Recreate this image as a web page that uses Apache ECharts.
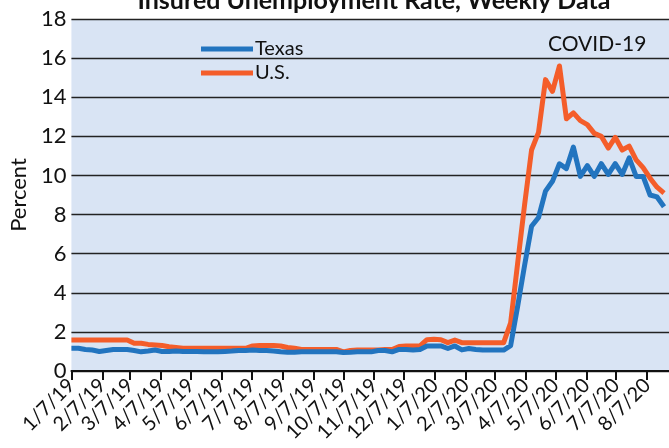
<!DOCTYPE html>
<html>
<head>
<meta charset="utf-8">
<script src="https://cdn.jsdelivr.net/npm/echarts@6/dist/echarts.min.js"></script>
<style>
  html, body { margin: 0; padding: 0; background: #fff; }
  #chart { width: 669px; height: 448px; }
</style>
</head>
<body>
<div id="chart"></div>
<script>
  // weekly data, first week 1/7/19
  var firstWeek = '2019-01-07';
  var tickLabels = ['1/7/19', '2/7/19', '3/7/19', '4/7/19', '5/7/19', '6/7/19', '7/7/19', '8/7/19',
    '9/7/19', '10/7/19', '11/7/19', '12/7/19', '1/7/20', '2/7/20', '3/7/20', '4/7/20',
    '5/7/20', '6/7/20', '7/7/20', '8/7/20'];
  var yTicks = [0, 2, 4, 6, 8, 10, 12, 14, 16, 18];

  var texasData = [
    1.16, 1.16, 1.1, 1.07, 1.0, 1.05, 1.1, 1.1, 1.1, 1.05, 0.98, 1.02, 1.07, 1.0, 1.0, 1.02,
    1.0, 1.0, 1.0, 0.98, 0.98, 0.98, 1.0, 1.02, 1.05, 1.05, 1.07, 1.05, 1.05, 1.02, 0.98,
    0.96, 0.96, 0.98, 0.98, 0.98, 0.98, 0.98, 0.98, 0.95, 0.96, 0.98, 0.98, 0.98, 1.05, 1.05, 0.98,
    1.1, 1.1, 1.08, 1.1,
    1.28, 1.28, 1.28, 1.15, 1.28, 1.08, 1.15, 1.1, 1.07, 1.07, 1.07, 1.07,
    1.3, 3.3, 5.4, 7.4, 7.85, 9.2, 9.7, 10.6, 10.35, 11.45, 9.95, 10.5, 9.95, 10.6, 10.05,
    10.6, 10.05, 10.9, 9.95, 9.95, 9.0, 8.9, 8.4
  ];
  var usData = [
    1.59, 1.59, 1.59, 1.59, 1.59, 1.59, 1.59, 1.59, 1.59,
    1.42, 1.42, 1.36, 1.33, 1.3, 1.24, 1.2,
    1.16, 1.16, 1.16, 1.16, 1.16, 1.16, 1.16, 1.16, 1.16, 1.16,
    1.28, 1.3, 1.3, 1.3, 1.28, 1.2, 1.16,
    1.1, 1.1, 1.1, 1.1, 1.1, 1.1,
    0.98, 1.05, 1.07, 1.07, 1.07, 1.07, 1.1, 1.1,
    1.25, 1.28, 1.28, 1.28,
    1.6, 1.62, 1.6, 1.45, 1.58, 1.45, 1.45, 1.45, 1.45, 1.45, 1.45, 1.45,
    2.46, 5.5, 8.5, 11.3, 12.2, 14.9, 14.3, 15.6, 12.9, 13.2, 12.8, 12.6, 12.15, 12.0, 11.4,
    11.95, 11.3, 11.5, 10.8, 10.4, 9.86, 9.4, 9.1
  ];

  var DAY = 86400000;
  var font = "Lato, 'Open Sans', sans-serif";
  var start = Date.parse(firstWeek + 'T00:00:00Z');

  function toPairs(arr) {
    return arr.map(function (v, i) { return [start + i * 7 * DAY, v]; });
  }
  function parseLabel(s) {
    var p = s.split('/');
    return Date.UTC(2000 + (+p[2]), +p[0] - 1, +p[1]);
  }
  var tickValues = tickLabels.map(parseLabel);

  var chart = echarts.init(document.getElementById('chart'));
  var option = {
    animation: false,
    title: {
      text: 'Insured Unemployment Rate, Weekly Data',
      left: 369,
      textAlign: 'center',
      top: -17,
      textStyle: { fontFamily: font, fontSize: 25, fontWeight: 'bold', color: '#111' }
    },
    legend: {
      orient: 'vertical',
      left: 196,
      top: 34,
      itemGap: 4,
      itemWidth: 52,
      itemHeight: 5,
      icon: 'rect',
      data: ['Texas', 'U.S.'],
      textStyle: { fontFamily: font, fontSize: 20, color: '#111', padding: [0, 0, 0, -3] }
    },
    graphic: [{
      type: 'text',
      left: 548,
      top: 34,
      style: { text: 'COVID-19', fontFamily: font, fontSize: 21, fill: '#111' }
    }],
    grid: {
      left: 66,
      right: -9,
      top: 19,
      bottom: 77,
      show: true,
      backgroundColor: '#d9e4f4',
      borderWidth: 0
    },
    xAxis: {
      type: 'value',
      min: start,
      max: start + 600 * DAY,
      splitLine: { show: false },
      axisLine: { show: true, lineStyle: { color: '#111', width: 2 } },
      axisTick: { show: true, customValues: tickValues, length: 9, lineStyle: { color: '#111', width: 2 } },
      axisLabel: {
        customValues: tickValues,
        rotate: 45,
        margin: 11,
        fontFamily: font,
        fontSize: 20,
        color: '#111',
        formatter: function (v) {
          var d = new Date(v);
          return (d.getUTCMonth() + 1) + '/' + d.getUTCDate() + '/' + String(d.getUTCFullYear()).slice(2);
        }
      }
    },
    yAxis: {
      type: 'value',
      min: yTicks[0],
      max: yTicks[yTicks.length - 1],
      interval: 2,
      name: 'Percent',
      nameLocation: 'middle',
      nameGap: 40,
      nameTextStyle: { fontFamily: font, fontSize: 22, color: '#111' },
      axisLine: { show: false },
      axisTick: { show: false },
      axisLabel: { fontFamily: font, fontSize: 22, color: '#111', margin: 5 },
      splitLine: { lineStyle: { color: '#222', width: 1.3 } }
    },
    series: [
      {
        name: 'Texas',
        type: 'line',
        data: toPairs(texasData),
        showSymbol: false,
        color: '#2274bf',
        lineStyle: { width: 5, color: '#2274bf', join: 'round' },
        z: 3
      },
      {
        name: 'U.S.',
        type: 'line',
        data: toPairs(usData),
        showSymbol: false,
        color: '#f45d2a',
        lineStyle: { width: 5, color: '#f45d2a', join: 'round' },
        z: 2
      }
    ]
  };
  chart.setOption(option);
</script>
</body>
</html>
